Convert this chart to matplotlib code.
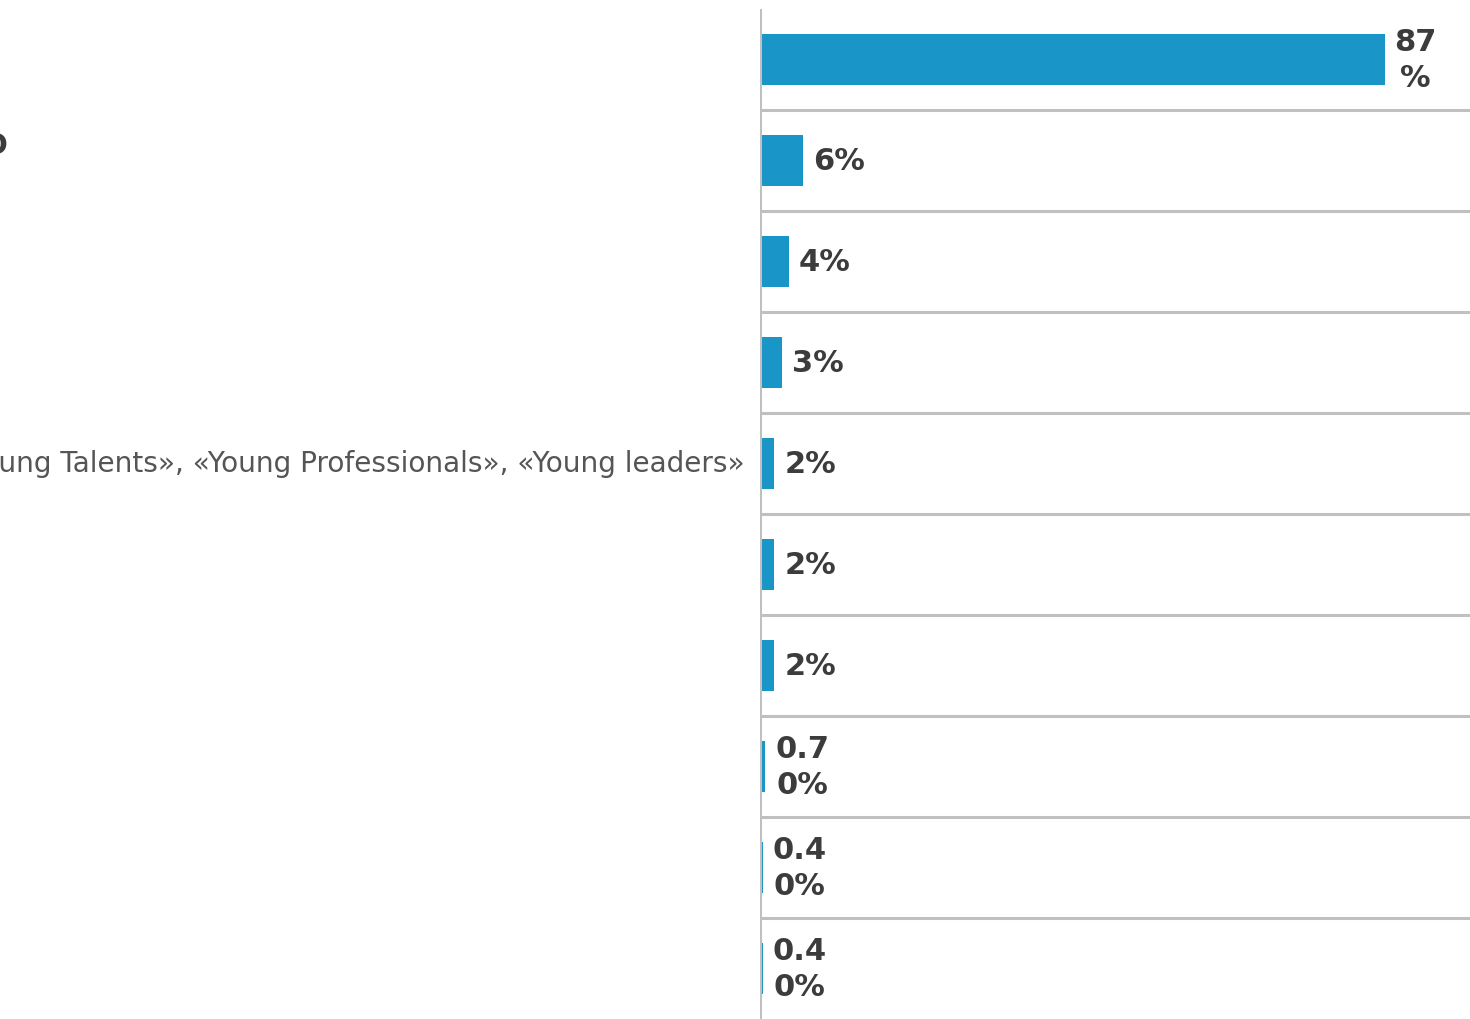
import matplotlib.pyplot as plt
import numpy as np

# данные (сверху вниз)
values = [87, 6, 4, 3, 2, 2, 2, 0.7, 0.4, 0.4]
bar_labels = ["87\n%", "6%", "4%", "3%", "2%", "2%", "2%", "0.7\n0%", "0.4\n0%", "0.4\n0%"]
row5_label = "«Young Talents», «Young Professionals», «Young leaders»"
row2_tail = "O"

bar_color = "#1a95c8"
grid_color = "#c0c0c0"
text_color = "#3c3c3c"

fig = plt.figure(figsize=(14.7, 10.2), dpi=100)
ax = fig.add_axes([760 / 1470, 0, 1 - 760 / 1470, 1010 / 1020])

y = np.arange(len(values))
ax.barh(y, values, height=0.5, color=bar_color)
ax.set_ylim(len(values) - 0.5, -0.5)
ax.set_xlim(0, 98.9)

# горизонтальные линии между строками
for b in np.arange(0.5, len(values) - 0.5, 1):
    ax.axhline(b, color=grid_color, lw=2.2)
ax.axvline(0, color=grid_color, lw=2.2)

for s in ax.spines.values():
    s.set_visible(False)
ax.set_xticks([])
ax.set_yticks([])

for yi, v, lab in zip(y, values, bar_labels):
    ax.annotate(lab, (v, yi), xytext=(10, 0), textcoords="offset pixels",
                ha="left", va="center", fontsize=22, fontweight="bold",
                color=text_color, multialignment="center", linespacing=1.3)

# подписи категорий (видны только обрезанные фрагменты)
ax.annotate(row5_label, (0, 4), xytext=(-15, 0), textcoords="offset pixels",
            ha="right", va="center", fontsize=20.2, color="#555555")
fig.text(-17 / 1470, 1 - 146 / 1020, row2_tail, ha="left", va="center",
         fontsize=21, fontweight="bold", color=text_color)

fig.savefig("out.png", dpi=100)
